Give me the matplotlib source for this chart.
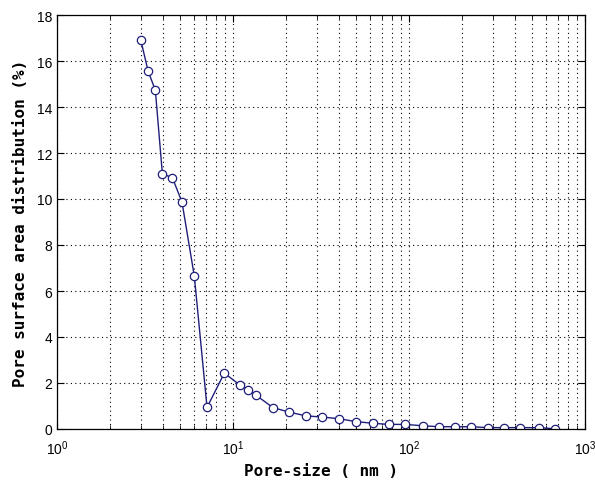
import matplotlib
matplotlib.use("Agg")
import matplotlib.pyplot as plt
from matplotlib.ticker import LogLocator, NullFormatter

pore_size = [2.99, 3.29, 3.62, 3.97, 4.52, 5.13, 6.03, 7.12, 8.93, 10.96,
             12.17, 13.45, 16.87, 20.7, 26.0, 32.0, 39.8, 50.0, 62.2, 76.7,
             95.3, 119.6, 148.6, 183.0, 224.0, 281.0, 347.0, 427.0, 545.0, 677.0]
area_dist = [16.93, 15.57, 14.73, 11.09, 10.93, 9.87, 6.64, 0.94, 2.43, 1.91,
             1.70, 1.48, 0.93, 0.74, 0.57, 0.52, 0.45, 0.32, 0.25, 0.20,
             0.20, 0.14, 0.10, 0.10, 0.10, 0.06, 0.06, 0.06, 0.06, 0.01]
y_ticks = [0, 2, 4, 6, 8, 10, 12, 14, 16, 18]

fig = plt.figure(figsize=(5.95, 4.81), dpi=100)
ax = fig.add_axes([57/595, 51/481, 528/595, 414/481])

ax.plot(pore_size, area_dist, color="#1f1f7a", lw=1.0, marker="o",
        markersize=6, markerfacecolor="white", markeredgecolor="#1f1f7a",
        markeredgewidth=0.9)

ax.set_xscale("log")
ax.set_xlim(1, 1000)
ax.set_ylim(0, 18)
ax.set_yticks(y_ticks)
ax.xaxis.set_major_locator(LogLocator(base=10, numticks=10))
ax.xaxis.set_minor_locator(LogLocator(base=10, subs=range(2, 10), numticks=20))
ax.xaxis.set_minor_formatter(NullFormatter())

ax.grid(True, which="major", axis="both", color="black", linestyle=(0, (1, 3)), lw=0.8)
ax.grid(True, which="minor", axis="x", color="black", linestyle=(0, (1, 3)), lw=0.8)

ax.tick_params(which="both", direction="in", top=True, right=True, labelsize=10)
ax.tick_params(which="major", length=5)
ax.tick_params(which="minor", length=3)
ax.tick_params(axis="x", which="major", pad=7)
for lab in ax.get_xticklabels() + ax.get_yticklabels():
    lab.set_family("Liberation Sans")
for s in ax.spines.values():
    s.set_linewidth(0.9)

ax.set_xlabel("Pore-size ( nm )", family="DejaVu Sans Mono", fontweight="bold", fontsize=11.5)
ax.set_ylabel("Pore surface area distribution (%)", family="DejaVu Sans Mono",
              fontweight="bold", fontsize=11.5, labelpad=6)

fig.savefig("out.png", dpi=100)
